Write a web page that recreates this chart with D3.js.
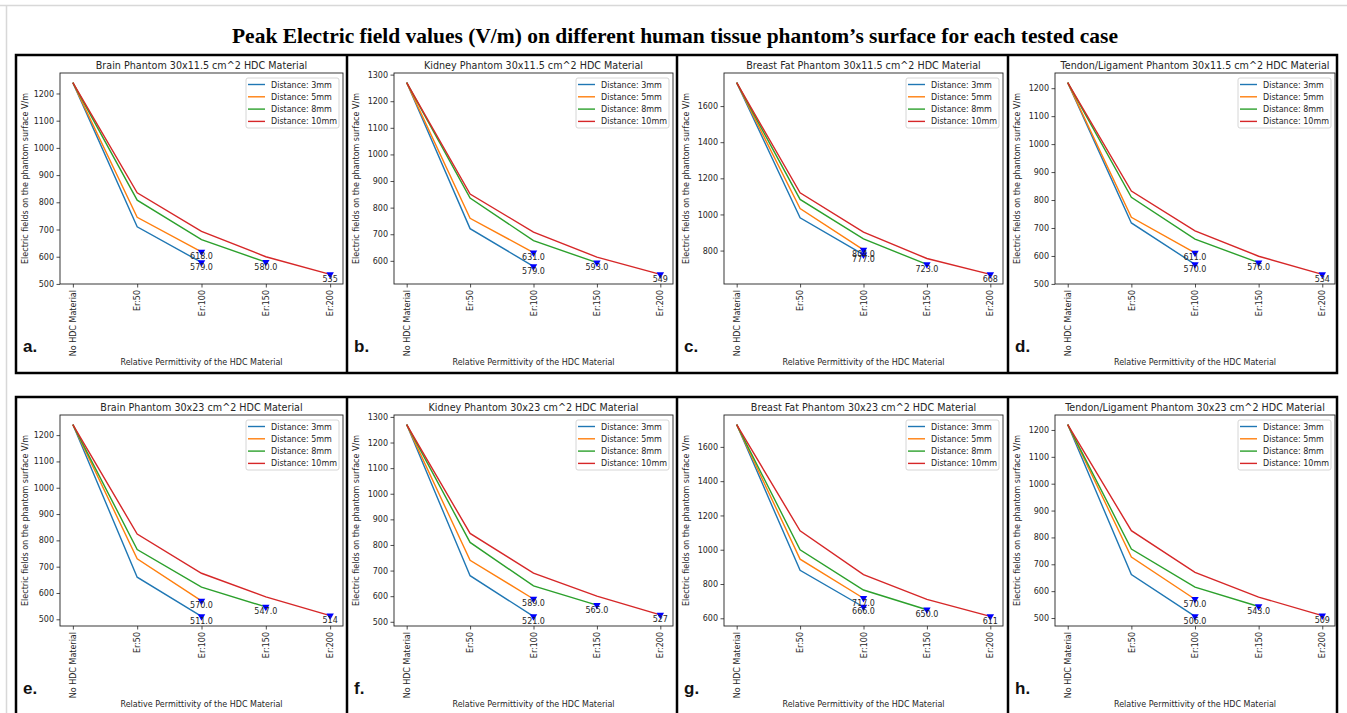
<!doctype html>
<html>
  <head>
    <script src="https://cdnjs.cloudflare.com/ajax/libs/d3/7.8.5/d3.min.js"></script>
    <style>
      body { margin: 0; background: #fff; }
      text { font-family: "DejaVu Sans", sans-serif; fill: #262626; }
    </style>
  </head>
  <body>
    <script>
        // categories on the x axis and legend names
        var categories = ["No HDC Material", "Er:50", "Er:100", "Er:150", "Er:200"];
        var seriesNames = ["Distance: 3mm", "Distance: 5mm", "Distance: 8mm", "Distance: 10mm"];
        var panelTitles = [
            "Brain Phantom 30x11.5 cm^2 HDC Material",
            "Kidney Phantom 30x11.5 cm^2 HDC Material",
            "Breast Fat Phantom 30x11.5 cm^2 HDC Material",
            "Tendon/Ligament Phantom 30x11.5 cm^2 HDC Material",
            "Brain Phantom 30x23 cm^2 HDC Material",
            "Kidney Phantom 30x23 cm^2 HDC Material",
            "Breast Fat Phantom 30x23 cm^2 HDC Material",
            "Tendon/Ligament Phantom 30x23 cm^2 HDC Material"
        ];
        var panelTags = ["a.", "b.", "c.", "d.", "e.", "f.", "g.", "h."];
        var yTickSteps = [100, 100, 200, 100, 100, 100, 200, 100];

        // values per series: 3mm, 5mm, 8mm, 10mm
        var brain115  = [[1240, 710, 579], [1240, 745, 618], [1240, 808, 663, 580], [1240, 835, 693, 600, 535]];
        var kidney115 = [[1270, 721, 579], [1270, 760, 631], [1270, 836, 676, 593], [1270, 851, 708, 614, 549]];
        var breast115 = [[1730, 981, 777], [1730, 1033, 804], [1730, 1083, 865, 723], [1730, 1120, 902, 756, 668]];
        var tendon115 = [[1220, 718, 570], [1220, 738, 611], [1220, 810, 660, 576], [1220, 832, 690, 599, 534]];
        var brain23   = [[1240, 660, 511], [1240, 730, 570], [1240, 765, 622, 547], [1240, 824, 675, 585, 514]];
        var kidney23  = [[1270, 680, 521], [1270, 740, 589], [1270, 810, 640, 565], [1270, 845, 690, 600, 527]];
        var breast23  = [[1730, 880, 666], [1730, 945, 717], [1730, 1000, 765, 650], [1730, 1110, 855, 710, 611]];
        var tendon23  = [[1220, 662, 506], [1220, 727, 570], [1220, 757, 615, 543], [1220, 825, 670, 578, 509]];
        var panelData = [brain115, kidney115, breast115, tendon115, brain23, kidney23, breast23, tendon23];

        var colours = ["#1f77b4", "#ff7f0e", "#2ca02c", "#d62728"];

        var svg = d3.select("body").append("svg")
            .attr("width", 1347).attr("height", 713);

        // page edges
        svg.append("line").attr("x1", 0).attr("x2", 1347).attr("y1", 5.5).attr("y2", 5.5)
            .attr("stroke", "#d8d8d8").attr("stroke-width", 1.5);
        svg.append("line").attr("x1", 6.5).attr("x2", 6.5).attr("y1", 5).attr("y2", 713)
            .attr("stroke", "#d8d8d8").attr("stroke-width", 1.5);

        svg.append("text")
            .attr("x", 675).attr("y", 43)
            .attr("text-anchor", "middle")
            .attr("textLength", 886).attr("lengthAdjust", "spacingAndGlyphs")
            .style("font-family", "'Liberation Serif', serif")
            .style("font-weight", "bold").style("font-size", "22px").style("fill", "#000")
            .text("Peak Electric field values (V/m) on different human tissue phantom\u2019s surface for each tested case");

        // table frames
        var boxX = [16, 347, 677, 1008, 1337];
        var rowY = [[55, 373], [397, 740]];
        rowY.forEach(function(r) {
            svg.append("rect").attr("x", boxX[0]).attr("y", r[0])
                .attr("width", boxX[4] - boxX[0]).attr("height", r[1] - r[0])
                .attr("fill", "none").attr("stroke", "#000").attr("stroke-width", 2.5);
            boxX.slice(1, 4).forEach(function(bx) {
                svg.append("line").attr("x1", bx).attr("x2", bx).attr("y1", r[0]).attr("y2", r[1])
                    .attr("stroke", "#000").attr("stroke-width", 2.5);
            });
        });

        var axLeft = [60, 394, 724, 1055];
        var axRight = [343, 673, 1003, 1335];
        var axTop = [73, 415];
        var axBottom = [284, 626];

        panelData.forEach(function(series, i) {
            var col = i % 4, row = Math.floor(i / 4);
            var L = axLeft[col], R = axRight[col], T = axTop[row], B = axBottom[row];
            var g = svg.append("g");

            var all = d3.merge(series);
            var lo = d3.min(all), hi = d3.max(all), pad = (hi - lo) * 0.05;
            var y = d3.scaleLinear().domain([lo - pad, hi + pad]).range([B, T]);
            var x = d3.scaleLinear().domain([-0.2, 4.2]).range([L, R]);

            var step = yTickSteps[i];
            var ticks = d3.range(Math.ceil((lo - pad) / step) * step, hi + pad, step);

            var yAxis = g.append("g").attr("transform", "translate(" + L + ",0)")
                .call(d3.axisLeft(y).tickValues(ticks).tickSize(3.5).tickPadding(2.5).tickFormat(d3.format("d")));
            var xAxis = g.append("g").attr("transform", "translate(0," + B + ")")
                .call(d3.axisBottom(x).tickValues(d3.range(categories.length)).tickSize(3.5)
                    .tickFormat(function(d) { return categories[d]; }));
            [yAxis, xAxis].forEach(function(a) {
                a.select(".domain").remove();
                a.selectAll("line").attr("stroke", "#222").attr("stroke-width", 0.8);
                a.selectAll("text").style("font-size", "8px").style("font-family", "'DejaVu Sans'").attr("fill", "#262626");
            });
            xAxis.selectAll("text")
                .attr("transform", "rotate(-90)")
                .attr("text-anchor", "end")
                .attr("x", -6).attr("y", 0).attr("dy", "0.33em");

            // spines
            g.append("rect").attr("x", L).attr("y", T).attr("width", R - L).attr("height", B - T)
                .attr("fill", "none").attr("stroke", "#222").attr("stroke-width", 0.9);

            var line = d3.line().x(function(d, k) { return x(k); }).y(function(d) { return y(d); });
            series.forEach(function(s, k) {
                g.append("path").datum(s).attr("d", line)
                    .attr("fill", "none").attr("stroke", colours[k]).attr("stroke-width", 1.4);
            });

            // end markers with value labels
            series.forEach(function(s, k) {
                var xi = s.length - 1, v = s[xi];
                g.append("path")
                    .attr("d", d3.symbol().type(d3.symbolTriangle).size(24))
                    .attr("transform", "translate(" + x(xi) + "," + y(v) + ") rotate(180)")
                    .attr("fill", "blue");
                g.append("text")
                    .attr("x", x(xi)).attr("y", y(v) + 7.5)
                    .attr("text-anchor", "middle")
                    .style("font-size", "8px")
                    .text(k === 3 ? d3.format("d")(v) : d3.format(".1f")(v));
            });

            // legend
            var lw = 93, lh = 50, lx = R - 4 - lw, ly = T + 5;
            var leg = g.append("g").attr("transform", "translate(" + lx + "," + ly + ")");
            leg.append("rect").attr("width", lw).attr("height", lh).attr("rx", 2)
                .attr("fill", "#fff").attr("fill-opacity", 0.8).attr("stroke", "#ccc").attr("stroke-width", 0.8);
            seriesNames.forEach(function(n, k) {
                var ry = 6.5 + k * 12.3;
                leg.append("line").attr("x1", 2).attr("x2", 19).attr("y1", ry).attr("y2", ry)
                    .attr("stroke", colours[k]).attr("stroke-width", 1.4);
                leg.append("text").attr("x", 25).attr("y", ry + 3).style("font-size", "8px").text(n);
            });

            g.append("text").attr("x", (L + R) / 2).attr("y", T - 4)
                .attr("text-anchor", "middle").style("font-size", "9.6px").text(panelTitles[i]);
            g.append("text").attr("x", (L + R) / 2).attr("y", B + 81)
                .attr("text-anchor", "middle").style("font-size", "8px")
                .text("Relative Permittivity of the HDC Material");
            g.append("text")
                .attr("transform", "translate(" + (boxX[col] + 12) + "," + ((T + B) / 2) + ") rotate(-90)")
                .attr("text-anchor", "middle").style("font-size", "8px")
                .text("Electric fields on the phantom surface V/m");
            g.append("text").attr("x", boxX[col] + 7).attr("y", B + 68)
                .style("font-family", "'Liberation Sans', sans-serif").style("font-weight", "bold")
                .style("font-size", "17px").style("fill", "#111").text(panelTags[i]);
        });
    </script>
  </body>
</html>
